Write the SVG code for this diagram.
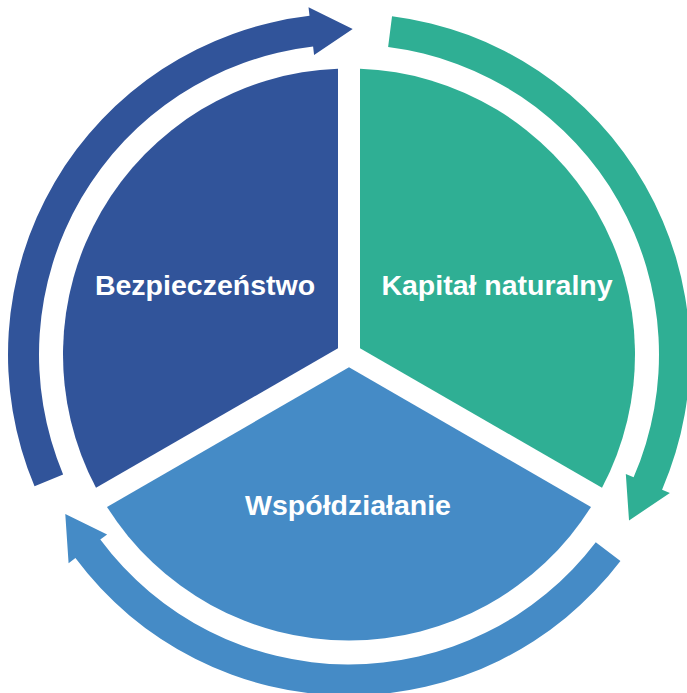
<svg xmlns="http://www.w3.org/2000/svg" xmlns:xlink="http://www.w3.org/1999/xlink" width="687" height="693" viewBox="0 0 687 693">
  <style>
    .label { font-family: "Liberation Sans", Arial, sans-serif; font-weight: bold; font-size: 28.5px; fill: #ffffff; text-anchor: middle; }
    .dark { fill: #31549A; }
    .teal { fill: #2FAF94; }
    .light { fill: #458BC6; }
  </style>
  <defs>
    <path id="arrow" d="M 34.53 486.37 A 341 341 0 0 1 309.51 15.80 L 308.52 7.35 L 352.69 29.02 L 314.08 55.03 L 313.10 46.59 A 310 310 0 0 0 63.12 474.38 Z"/>
  </defs>
  <rect width="687" height="693" fill="#ffffff"/>
  <g id="connectors">
    <use xlink:href="#arrow" href="#arrow" class="dark"/>
    <use xlink:href="#arrow" href="#arrow" class="teal" transform="rotate(120 349 354.5)"/>
    <use xlink:href="#arrow" href="#arrow" class="light" transform="rotate(240 349 354.5)"/>
  </g>
  <g id="bezpieczenstwo">
    <path class="dark" d="M 338 348.15 L 338 68.71 A 286 286 0 0 0 96.0 487.87 Z"/>
    <text class="label" x="205" y="295">Bezpieczeństwo</text>
  </g>
  <g id="kapital-naturalny">
    <path class="teal" d="M 360 348.15 L 360 68.71 A 286 286 0 0 1 602.0 487.87 Z"/>
    <text class="label" x="497" y="295">Kapitał naturalny</text>
  </g>
  <g id="wspoldzialanie">
    <path class="light" d="M 349 367.2 L 591.0 506.92 A 286 286 0 0 1 107.0 506.92 Z"/>
    <text class="label" x="348" y="515">Współdziałanie</text>
  </g>
</svg>
